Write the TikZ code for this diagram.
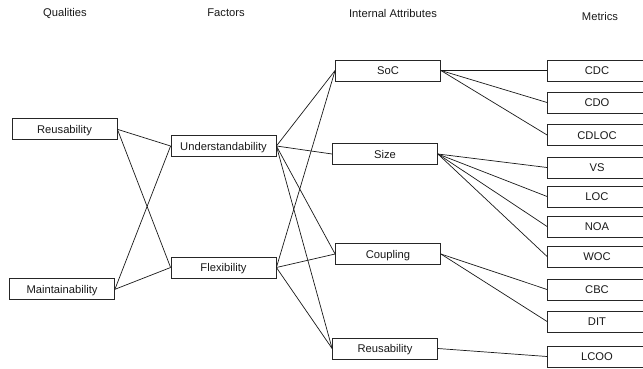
\documentclass[tikz,border=0pt]{standalone}
\usepackage{fontspec}
\setmainfont{Liberation Sans}
\begin{document}
\begin{tikzpicture}[x=1pt,y=-1pt,
  every node/.style={font=\fontsize{11.2}{13}\selectfont, text=black!90},
  box/.style={draw=black!85, line width=0.8pt, inner sep=0pt, minimum width=105pt, minimum height=21pt, text height=8pt, text depth=0pt},
  mbox/.style={box, minimum width=99pt},
  head/.style={inner sep=0pt},
  link/.style={draw=black!90, line width=0.7pt}]
\useasboundingbox (0,0) rectangle (643,368);
% headers
\node[head] (h1) at (65,13) {Qualities};
\node[head] (h2) at (226,13) {Factors};
\node[head] (h3) at (393,13) {Internal Attributes};
\node[head] (h4) at (600,16) {Metrics};
% qualities
\node[box] (qreu) at (64.5,129.3) {Reusability};
\node[box] (maint) at (62,289.3) {Maintainability};
% factors
\node[box] (und) at (223.5,146) {Understandability};
\node[box] (flex) at (223.5,267.5) {Flexibility};
% internal attributes
\node[box] (soc) at (388,70.5) {SoC};
\node[box] (size) at (385,154) {Size};
\node[box] (coup) at (388,254) {Coupling};
\node[box] (ireu) at (385,348.5) {Reusability};
% metrics
\node[mbox] (cdc) at (597,70.5) {CDC};
\node[mbox] (cdo) at (597,102.5) {CDO};
\node[mbox] (cdloc) at (597,135) {CDLOC};
\node[mbox] (vs) at (597,167.5) {VS};
\node[mbox] (loc) at (597,196.5) {LOC};
\node[mbox] (noa) at (597,226.5) {NOA};
\node[mbox] (woc) at (597,256.5) {WOC};
\node[mbox] (cbc) at (597,289.5) {CBC};
\node[mbox] (dit) at (597,321.5) {DIT};
\node[mbox] (lcoo) at (597,356.5) {LCOO};
% links
\draw[link] (qreu.east) -- (und.west);
\draw[link] (qreu.east) -- (flex.west);
\draw[link] (maint.east) -- (und.west);
\draw[link] (maint.east) -- (flex.west);
\draw[link] (und.east) -- (soc.west);
\draw[link] (und.east) -- (size.west);
\draw[link] (und.east) -- (coup.west);
\draw[link] (und.east) -- (ireu.west);
\draw[link] (flex.east) -- (soc.west);
\draw[link] (flex.east) -- (coup.west);
\draw[link] (flex.east) -- (ireu.west);
\draw[link] (soc.east) -- (cdc.west);
\draw[link] (soc.east) -- (cdo.west);
\draw[link] (soc.east) -- (cdloc.west);
\draw[link] (size.east) -- (vs.west);
\draw[link] (size.east) -- (loc.west);
\draw[link] (size.east) -- (noa.west);
\draw[link] (size.east) -- (woc.west);
\draw[link] (coup.east) -- (cbc.west);
\draw[link] (coup.east) -- (dit.west);
\draw[link] (ireu.east) -- (lcoo.west);
\end{tikzpicture}
\end{document}
